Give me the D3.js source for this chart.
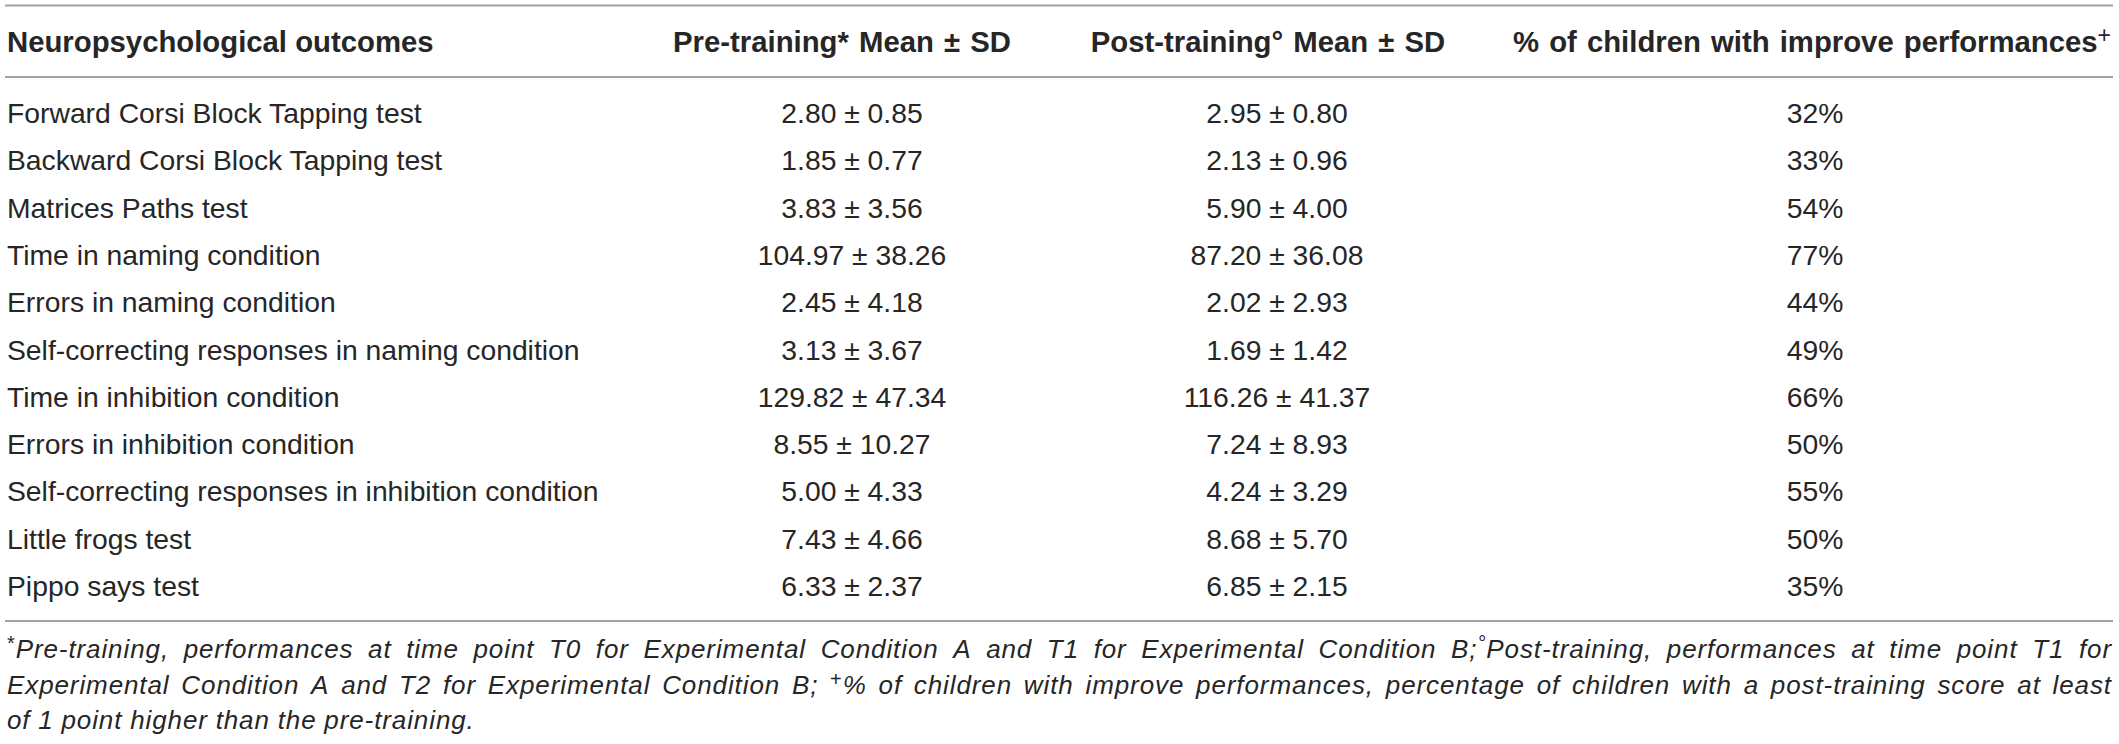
<!DOCTYPE html>
<html lang="en">
  <head>
    <meta charset="UTF-8" />
    <title>table - d3</title>
    <script src="https://d3js.org/d3.v7.min.js"></script>
  </head>
  <style>
    html,
    body {
      margin: 0;
      padding: 0;
      background: #fff;
    }
    svg text {
      font-family: "Liberation Sans", Arial, Helvetica, sans-serif;
      fill: #262626;
    }
  </style>
  <body>
    <script>
      // table data
      var outcomes = [
        "Forward Corsi Block Tapping test",
        "Backward Corsi Block Tapping test",
        "Matrices Paths test",
        "Time in naming condition",
        "Errors in naming condition",
        "Self-correcting responses in naming condition",
        "Time in inhibition condition",
        "Errors in inhibition condition",
        "Self-correcting responses in inhibition condition",
        "Little frogs test",
        "Pippo says test",
      ];
      var preMean = [2.8, 1.85, 3.83, 104.97, 2.45, 3.13, 129.82, 8.55, 5.0, 7.43, 6.33];
      var preSD = [0.85, 0.77, 3.56, 38.26, 4.18, 3.67, 47.34, 10.27, 4.33, 4.66, 2.37];
      var postMean = [2.95, 2.13, 5.9, 87.2, 2.02, 1.69, 116.26, 7.24, 4.24, 8.68, 6.85];
      var postSD = [0.8, 0.96, 4.0, 36.08, 2.93, 1.42, 41.37, 8.93, 3.29, 5.7, 2.15];
      var improved = [32, 33, 54, 77, 44, 49, 66, 50, 55, 50, 35];

      var columns = ["outcome", "pre", "post", "pct"];
      var headers = [
        [{ t: "Neuropsychological outcomes" }],
        [{ t: "Pre-training* Mean ± SD" }],
        [{ t: "Post-training° Mean ± SD" }],
        [{ t: "% of children with improve performances" }, { t: "+", sup: true }],
      ];

      // footnote, one entry per printed line; {x} = superscript
      var notes = [
        "{*}Pre-training, performances at time point T0 for Experimental Condition A and T1 for Experimental Condition B;{°}Post-training, performances at time point T1 for",
        "Experimental Condition A and T2 for Experimental Condition B; {+}% of children with improve performances, percentage of children with a post-training score at least",
        "of 1 point higher than the pre-training.",
      ];

      var width = 2119,
        height = 744,
        left = 7,
        right = 2112;

      var svg = d3
        .select("body")
        .append("svg")
        .attr("width", width)
        .attr("height", height);

      var f2 = d3.format(".2f");

      var xHead = d3.scaleOrdinal().domain(columns).range([left, 842, 1268, 1812]);
      var xCell = d3.scaleOrdinal().domain(columns).range([left, 852, 1277, 1815]);
      var y = d3.scalePoint().domain(outcomes).range([123, 596]);

      // rules
      [5.5, 77, 621].forEach(function (ly) {
        svg
          .append("line")
          .attr("x1", 5)
          .attr("x2", right + 1)
          .attr("y1", ly)
          .attr("y2", ly)
          .attr("stroke", "#a3a3a3")
          .attr("stroke-width", 2);
      });

      // header
      var head = svg
        .selectAll("text.head")
        .data(columns)
        .enter()
        .append("text")
        .attr("class", "head")
        .attr("x", function (d) {
          return xHead(d);
        })
        .attr("y", 52)
        .attr("font-size", 29.3)
        .attr("font-weight", "bold")
        .attr("word-spacing", function (d, i) {
          return i === 0 ? 0 : 2;
        })
        .attr("text-anchor", function (d, i) {
          return i === 0 ? "start" : "middle";
        });
      head.each(function (d, i) {
        var t = d3.select(this);
        headers[i].forEach(function (s) {
          var sp = t.append("tspan").text(s.t);
          if (s.sup) sp.attr("font-size", 23).attr("dy", -9).attr("font-weight", "normal");
        });
      });

      // body rows
      var rows = svg
        .selectAll("g.row")
        .data(outcomes)
        .enter()
        .append("g")
        .attr("class", "row")
        .attr("transform", function (d) {
          return "translate(0," + y(d) + ")";
        });

      rows.each(function (d, i) {
        var g = d3.select(this);
        var cells = [
          d,
          f2(preMean[i]) + " ± " + f2(preSD[i]),
          f2(postMean[i]) + " ± " + f2(postSD[i]),
          improved[i] + "%",
        ];
        cells.forEach(function (c, j) {
          g.append("text")
            .attr("x", xCell(columns[j]))
            .attr("font-size", 28.3)
            .attr("text-anchor", j === 0 ? "start" : "middle")
            .text(c);
        });
      });

      // footnote, justified
      var noteSize = 26;
      var noteY = [658, 694, 729];

      function parseWord(w) {
        var parts = [];
        w.replace(/\{([^}]*)\}|([^{]+)/g, function (m, sup, txt) {
          parts.push(sup ? { t: sup, sup: true } : { t: txt });
        });
        return parts;
      }

      notes.forEach(function (line, li) {
        var g = svg.append("g").attr("transform", "translate(0," + noteY[li] + ")");
        var words = line.split(" ").map(parseWord);
        var nodes = words.map(function (parts) {
          var t = g
            .append("text")
            .attr("font-size", noteSize)
            .attr("font-style", "italic")
            .attr("letter-spacing", 0.9);
          var shifted = false;
          parts.forEach(function (p) {
            var sp = t.append("tspan").text(p.t);
            if (p.sup) {
              sp.attr("font-size", 20).attr("dy", -8);
              if (p.t !== "°") sp.attr("font-style", "normal");
              shifted = true;
            } else if (shifted) {
              sp.attr("dy", 8);
              shifted = false;
            }
          });
          return t;
        });
        var widths = nodes.map(function (t) {
          return t.node().getComputedTextLength();
        });
        var total = d3.sum(widths);
        var gap =
          li < notes.length - 1
            ? (right - left - total) / (words.length - 1)
            : noteSize * 0.3;
        var cx = left;
        nodes.forEach(function (t, k) {
          t.attr("x", cx);
          cx += widths[k] + gap;
        });
      });
    </script>
  </body>
</html>
